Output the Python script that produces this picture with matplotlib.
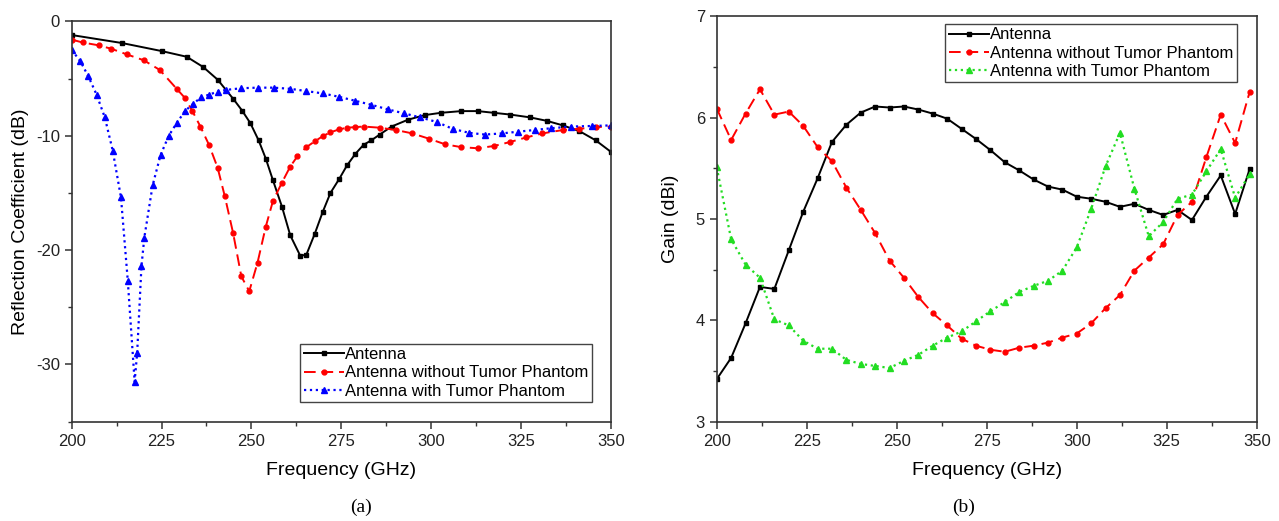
"""
Reflection coefficient (a) and gain (b) of the antenna, with and without tumor phantom.
"""
import matplotlib
matplotlib.use('Agg')
import matplotlib.pyplot as plt
from matplotlib.ticker import MultipleLocator

plt.rcParams['font.family'] = ['Liberation Sans', 'DejaVu Sans']
plt.rcParams['axes.unicode_minus'] = False

LABELS = ['Antenna', 'Antenna without Tumor Phantom', 'Antenna with Tumor Phantom']

# ---- (a) reflection coefficient, dB ----
s11_ant_f = [200, 214, 225, 232, 236.6, 240.6, 245, 247.4, 249.7, 252, 254, 256,
             258.5, 260.8, 263.6, 265.3, 267.6, 269.8, 272, 274.4, 276.6, 278.9,
             281.2, 283.4, 285.7, 289, 293.6, 298.2, 302.7, 308.4, 313, 317.5,
             322, 327.6, 332.2, 336.7, 341.3, 345.8, 350]
s11_ant = [-1.2, -1.9, -2.6, -3.1, -4.0, -5.1, -6.8, -7.8, -8.9, -10.4, -12.0, -13.9,
           -16.2, -18.7, -20.5, -20.4, -18.6, -16.7, -15.0, -13.8, -12.6, -11.6,
           -10.8, -10.4, -9.9, -9.2, -8.6, -8.2, -8.0, -7.85, -7.85, -8.0,
           -8.15, -8.4, -8.7, -9.1, -9.6, -10.4, -11.4]

s11_wo_f = [200, 203, 207.5, 211, 215.4, 220, 224.5, 229.2, 231.5, 233.5, 235.8,
            238.2, 240.6, 242.6, 244.9, 247.2, 249.4, 251.7, 254, 256, 258.5, 260.8,
            262.8, 265.3, 267.6, 269.8, 272, 274.4, 276.6, 278.9, 281.2, 285.7,
            290.2, 294.8, 299.3, 303.9, 308.4, 313, 317.5, 322, 326.5, 331, 336.7,
            341.3, 345.8, 350]
s11_wo = [-1.6, -1.85, -2.1, -2.4, -2.9, -3.4, -4.25, -5.9, -6.7, -7.8, -9.2,
          -10.8, -12.8, -15.3, -18.5, -22.3, -23.6, -21.1, -17.95, -15.7, -14.1, -12.7,
          -11.8, -11.0, -10.5, -10.05, -9.7, -9.45, -9.3, -9.25, -9.2, -9.3,
          -9.5, -9.8, -10.25, -10.75, -11.0, -11.1, -10.9, -10.55, -10.15, -9.8, -9.5,
          -9.4, -9.25, -9.2]

s11_w_f = [200, 202.4, 204.6, 206.9, 209.2, 211.4, 213.7, 215.6, 217.5, 218.2,
           219.4, 220.2, 222.5, 224.7, 227, 229.2, 231.5, 233.8, 236, 238.3, 240.6,
           242.8, 247.2, 251.7, 256.2, 260.8, 265.3, 269.8, 274.4, 278.9, 283.4,
           288, 292.5, 297, 301.6, 306, 310.6, 315, 319.7, 324.2, 328.8, 333.3,
           339, 344.7, 350]
s11_w = [-2.5, -3.5, -4.8, -6.4, -8.4, -11.3, -15.4, -22.7, -31.5, -29.0,
         -21.4, -18.9, -14.35, -11.7, -10.0, -8.9, -7.85, -7.2, -6.65, -6.4, -6.15,
         -6.0, -5.85, -5.8, -5.8, -5.9, -6.1, -6.3, -6.6, -6.95, -7.3,
         -7.7, -8.05, -8.4, -8.8, -9.4, -9.75, -9.9, -9.8, -9.65, -9.5, -9.35,
         -9.2, -9.15, -9.1]

# ---- (b) gain, dBi (every 4 GHz) ----
gain_f = list(range(200, 350, 4))
gain_ant = [3.42, 3.63, 3.97, 4.33, 4.31, 4.69, 5.07, 5.40, 5.76, 5.93, 6.05, 6.11,
            6.10, 6.11, 6.08, 6.04, 5.99, 5.89, 5.79, 5.68, 5.56, 5.48, 5.39, 5.32,
            5.29, 5.22, 5.20, 5.17, 5.12, 5.15, 5.09, 5.04, 5.09, 4.99, 5.22, 5.43,
            5.05, 5.49]
gain_wo = [6.09, 5.78, 6.04, 6.28, 6.03, 6.06, 5.92, 5.71, 5.57, 5.31, 5.09, 4.86,
           4.59, 4.42, 4.23, 4.07, 3.95, 3.82, 3.75, 3.71, 3.69, 3.73, 3.75, 3.78,
           3.83, 3.87, 3.97, 4.12, 4.25, 4.49, 4.62, 4.75, 5.04, 5.17, 5.61, 6.03,
           5.75, 6.25]
gain_w = [5.51, 4.80, 4.55, 4.42, 4.01, 3.95, 3.80, 3.72, 3.72, 3.61, 3.57, 3.55,
          3.53, 3.60, 3.66, 3.75, 3.83, 3.89, 3.99, 4.09, 4.18, 4.28, 4.34, 4.39,
          4.49, 4.72, 5.10, 5.52, 5.85, 5.30, 4.83, 4.97, 5.20, 5.24, 5.47, 5.69,
          5.21, 5.44]


def style_axis(ax):
    for sp in ax.spines.values():
        sp.set_linewidth(1.2)
        sp.set_color('#333333')
    ax.xaxis.set_major_locator(MultipleLocator(25))
    ax.xaxis.set_minor_locator(MultipleLocator(12.5))
    ax.tick_params(which='major', direction='out', length=5, width=1.1,
                   labelsize=12, top=False, right=False, colors='#333333',
                   labelcolor='#222222')
    ax.tick_params(which='minor', direction='out', length=3, width=1.0,
                   top=False, right=False, colors='#333333')
    ax.set_xlim(200, 350)
    ax.set_xlabel('Frequency (GHz)', fontsize=14, labelpad=10)


def add_legend(ax, loc, anchor):
    leg = ax.legend(loc=loc, bbox_to_anchor=anchor, fontsize=12, frameon=True,
                    fancybox=False, framealpha=1, edgecolor='#444444',
                    borderpad=0.2, handlelength=2.4, handletextpad=0.1,
                    labelspacing=0.2, borderaxespad=0)
    leg.get_frame().set_linewidth(1.0)


fig = plt.figure(figsize=(12.79, 5.21), dpi=100)

# (a)
ax1 = fig.add_axes([0.0561, 0.1906, 0.4214, 0.7685])
ax1.plot(s11_ant_f, s11_ant, '-', color='black', lw=1.4, marker='s', ms=3,
         label=LABELS[0])
ax1.plot(s11_wo_f, s11_wo, '--', color='red', lw=1.4, marker='o', ms=3.5,
         dashes=(6, 3), label=LABELS[1])
ax1.plot(s11_w_f, s11_w, ':', color='blue', lw=1.6, marker='^', ms=4,
         label=LABELS[2])
style_axis(ax1)
ax1.set_ylim(-35, 0)
ax1.yaxis.set_major_locator(MultipleLocator(10))
ax1.yaxis.set_minor_locator(MultipleLocator(5))
ax1.set_ylabel('Reflection Coefficient (dB)', fontsize=14, labelpad=5)
add_legend(ax1, 'lower right', (0.9653, 0.049))

# (b)
ax2 = fig.add_axes([0.5604, 0.1906, 0.4222, 0.7781])
ax2.plot(gain_f, gain_ant, '-', color='black', lw=1.4, marker='s', ms=3,
         label=LABELS[0])
ax2.plot(gain_f, gain_wo, '--', color='red', lw=1.4, marker='o', ms=3.5,
         dashes=(6, 3), label=LABELS[1])
ax2.plot(gain_f, gain_w, ':', color='#22dd22', lw=1.6, marker='^', ms=4,
         label=LABELS[2])
style_axis(ax2)
ax2.set_ylim(3, 7)
ax2.yaxis.set_major_locator(MultipleLocator(1))
ax2.yaxis.set_minor_locator(MultipleLocator(0.5))
ax2.set_ylabel('Gain (dBi)', fontsize=14, labelpad=12)
add_legend(ax2, 'upper right', (0.9635, 0.981))

fig.text(0.282, 0.01, '(a)', fontsize=14, family=['Liberation Serif', 'DejaVu Serif'],
         ha='center', va='bottom')
fig.text(0.753, 0.01, '(b)', fontsize=14, family=['Liberation Serif', 'DejaVu Serif'],
         ha='center', va='bottom')

fig.savefig('out.png', dpi=100, facecolor='white')
